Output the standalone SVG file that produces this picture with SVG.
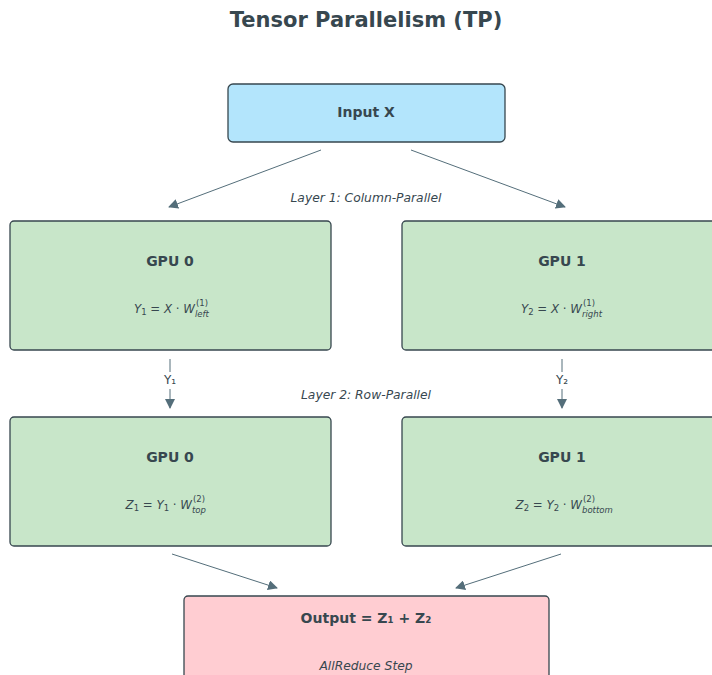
<svg xmlns="http://www.w3.org/2000/svg" width="712" height="675" viewBox="0 0 712 675">
  <defs>
    <marker id="arrow" viewBox="0 0 10 10" refX="9" refY="5" markerWidth="10" markerHeight="10" markerUnits="userSpaceOnUse" orient="auto">
      <path d="M0,0 L10,5 L0,10 z" fill="#546e7a"/>
    </marker>
    <style>
      text { font-family: "DejaVu Sans", "Liberation Sans", sans-serif; fill: #37474f; }
      .title { font-size: 21px; font-weight: bold; text-anchor: middle; }
      .head { font-size: 14px; font-weight: bold; text-anchor: middle; }
      .note { font-size: 12.3px; font-style: italic; text-anchor: middle; }
      .lbl { font-size: 12px; text-anchor: middle; }
      .math { font-size: 11.8px; font-style: italic; text-anchor: end; }
      .up { font-size: 8.5px; font-style: normal; }
      .dn { font-size: 8.5px; font-style: italic; }
      .box { stroke: #37474f; stroke-width: 1.3; }
      .input { fill: #b3e5fc; }
      .gpu { fill: #c8e6c9; }
      .out { fill: #ffcdd2; }
      .edge { stroke: #546e7a; stroke-width: 1; fill: none; }
    </style>
  </defs>

  <rect width="712" height="675" fill="#ffffff"/>

  <text class="title" x="366" y="27">Tensor Parallelism (TP)</text>

  <g id="input-x">
    <rect class="box input" x="228" y="84" width="277" height="58" rx="5"/>
    <text class="head" x="366" y="117">Input X</text>
  </g>

  <text class="note" x="366" y="202">Layer 1: Column-Parallel</text>
  <text class="note" x="366" y="399">Layer 2: Row-Parallel</text>

  <g id="gpu0-layer1">
    <rect class="box gpu" x="10" y="221" width="321" height="129" rx="4"/>
    <text class="head" x="170" y="266">GPU 0</text>
    <text class="math" x="195" y="313">Y<tspan class="up" dy="2">1</tspan><tspan dy="-2" font-style="normal"> = </tspan>X<tspan font-style="normal"> · </tspan>W</text>
    <text class="up" x="196" y="306">(1)</text>
    <text class="dn" x="195" y="317">left</text>
  </g>

  <g id="gpu1-layer1">
    <rect class="box gpu" x="402" y="221" width="321" height="129" rx="4"/>
    <text class="head" x="562" y="266">GPU 1</text>
    <text class="math" x="582" y="313">Y<tspan class="up" dy="2">2</tspan><tspan dy="-2" font-style="normal"> = </tspan>X<tspan font-style="normal"> · </tspan>W</text>
    <text class="up" x="583" y="306">(1)</text>
    <text class="dn" x="582" y="317">right</text>
  </g>

  <g id="gpu0-layer2">
    <rect class="box gpu" x="10" y="417" width="321" height="129" rx="4"/>
    <text class="head" x="170" y="462">GPU 0</text>
    <text class="math" x="192" y="509">Z<tspan class="up" dy="2">1</tspan><tspan dy="-2" font-style="normal"> = </tspan>Y<tspan class="up" dy="2">1</tspan><tspan dy="-2" font-style="normal"> · </tspan>W</text>
    <text class="up" x="193" y="502">(2)</text>
    <text class="dn" x="192" y="513">top</text>
  </g>

  <g id="gpu1-layer2">
    <rect class="box gpu" x="402" y="417" width="321" height="129" rx="4"/>
    <text class="head" x="562" y="462">GPU 1</text>
    <text class="math" x="582" y="509">Z<tspan class="up" dy="2">2</tspan><tspan dy="-2" font-style="normal"> = </tspan>Y<tspan class="up" dy="2">2</tspan><tspan dy="-2" font-style="normal"> · </tspan>W</text>
    <text class="up" x="583" y="502">(2)</text>
    <text class="dn" x="582" y="513">bottom</text>
  </g>

  <g id="output">
    <rect class="box out" x="184" y="596" width="365" height="90" rx="4"/>
    <text class="head" x="366" y="623">Output = Z₁ + Z₂</text>
    <text class="note" x="366" y="670">AllReduce Step</text>
  </g>

  <g id="connectors">
    <line class="edge" x1="321" y1="150" x2="169" y2="207" marker-end="url(#arrow)"/>
    <line class="edge" x1="411" y1="150" x2="565" y2="207" marker-end="url(#arrow)"/>
    <line class="edge" x1="170" y1="359" x2="170" y2="372"/>
    <text class="lbl" x="170" y="384">Y₁</text>
    <line class="edge" x1="170" y1="389" x2="170" y2="408" marker-end="url(#arrow)"/>
    <line class="edge" x1="562" y1="359" x2="562" y2="372"/>
    <text class="lbl" x="562" y="384">Y₂</text>
    <line class="edge" x1="562" y1="389" x2="562" y2="408" marker-end="url(#arrow)"/>
    <line class="edge" x1="172" y1="554" x2="277" y2="588" marker-end="url(#arrow)"/>
    <line class="edge" x1="561" y1="554" x2="456" y2="588" marker-end="url(#arrow)"/>
  </g>
</svg>
